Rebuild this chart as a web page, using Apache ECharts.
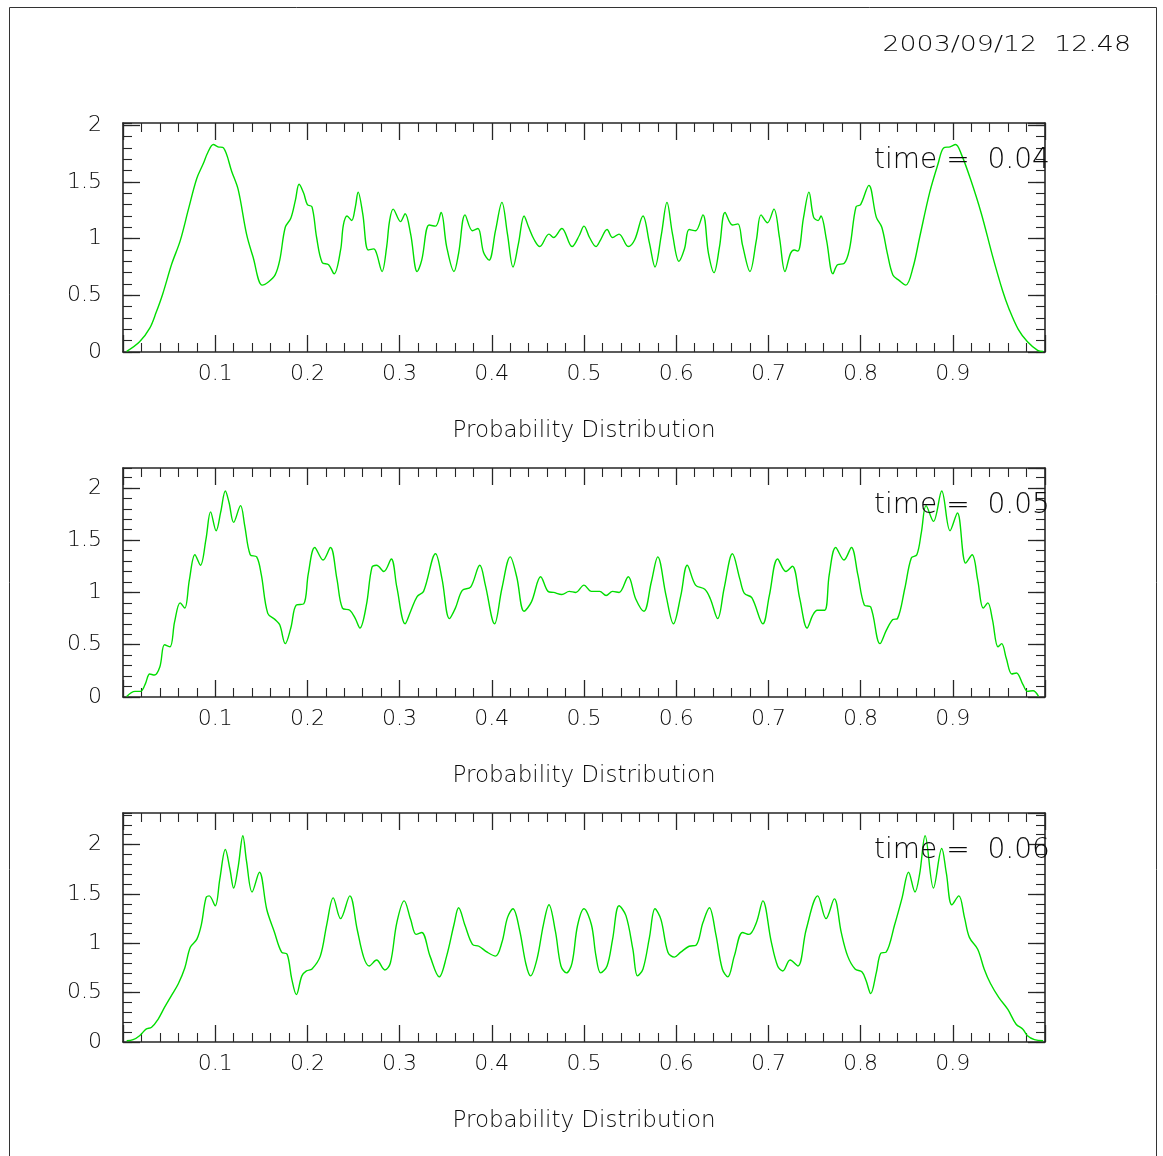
<!DOCTYPE html>
<html>
<head>
<meta charset="utf-8">
<script src="https://cdn.jsdelivr.net/npm/echarts@6/dist/echarts.min.js"></script>
<style>
  html, body { margin: 0; padding: 0; background: #fff; }
  #chart { width: 1163px; height: 1156px; }
</style>
</head>
<body>
<div id="chart"></div>
<script>
// Snapshot labels
const times = ['0.04', '0.05', '0.06'];
const stamp = '2003/09/12  12.48';
const axisTitle = 'Probability Distribution';
// Upper end of each panel's probability axis
const yTop = [2.02, 2.19, 2.32];

// time = 0.04
const x04 = [0.004, 0.018, 0.029, 0.036, 0.043, 0.053, 0.062, 0.071, 0.080, 0.087, 0.092, 0.098, 0.103, 0.109, 0.118, 0.125, 0.134, 0.141, 0.151, 0.158,
  0.165, 0.170, 0.176, 0.182, 0.187, 0.191, 0.196, 0.200, 0.205, 0.210, 0.216, 0.223, 0.229, 0.236, 0.239, 0.243, 0.248, 0.252, 0.255, 0.260,
  0.266, 0.272, 0.275, 0.281, 0.286, 0.289, 0.293, 0.301, 0.306, 0.312, 0.319, 0.324, 0.332, 0.339, 0.345, 0.351, 0.359, 0.364, 0.371, 0.379,
  0.385, 0.391, 0.397, 0.404, 0.411, 0.417, 0.423, 0.429, 0.435, 0.440, 0.446, 0.452, 0.462, 0.467, 0.476, 0.487, 0.495, 0.500, 0.506, 0.513,
  0.518, 0.525, 0.531, 0.538, 0.548, 0.555, 0.564, 0.571, 0.577, 0.584, 0.590, 0.596, 0.603, 0.609, 0.614, 0.621, 0.629, 0.635, 0.641, 0.647,
  0.653, 0.661, 0.667, 0.672, 0.680, 0.687, 0.692, 0.699, 0.706, 0.712, 0.718, 0.724, 0.728, 0.732, 0.738, 0.744, 0.749, 0.754, 0.757, 0.763,
  0.770, 0.775, 0.782, 0.788, 0.795, 0.800, 0.809, 0.817, 0.823, 0.829, 0.835, 0.842, 0.849, 0.857, 0.864, 0.875, 0.884, 0.890, 0.897, 0.903,
  0.909, 0.919, 0.931, 0.943, 0.954, 0.961, 0.971, 0.981, 0.992, 0.998];
const p04 = [0.005, 0.09, 0.21, 0.35, 0.51, 0.78, 0.98, 1.26, 1.53, 1.66, 1.76, 1.83, 1.81, 1.80, 1.59, 1.43, 1.04, 0.84, 0.59, 0.62,
  0.68, 0.81, 1.10, 1.18, 1.34, 1.48, 1.40, 1.30, 1.28, 1.01, 0.79, 0.77, 0.69, 0.90, 1.12, 1.20, 1.16, 1.28, 1.41, 1.22,
  0.90, 0.91, 0.87, 0.71, 0.93, 1.15, 1.26, 1.15, 1.22, 1.04, 0.71, 0.81, 1.12, 1.11, 1.23, 0.93, 0.71, 0.87, 1.21, 1.07,
  1.09, 0.88, 0.81, 1.07, 1.32, 1.04, 0.75, 0.96, 1.20, 1.10, 0.99, 0.93, 1.04, 1.01, 1.09, 0.93, 1.03, 1.11, 1.01, 0.93,
  0.99, 1.08, 1.01, 1.04, 0.93, 0.99, 1.20, 0.96, 0.75, 1.04, 1.32, 1.04, 0.80, 0.91, 1.08, 1.07, 1.21, 0.87, 0.70, 0.93,
  1.23, 1.12, 1.13, 0.94, 0.71, 0.99, 1.21, 1.14, 1.26, 1.01, 0.71, 0.87, 0.90, 0.89, 1.18, 1.41, 1.19, 1.16, 1.20, 0.99,
  0.69, 0.77, 0.78, 0.91, 1.28, 1.30, 1.47, 1.19, 1.10, 0.87, 0.68, 0.63, 0.59, 0.75, 1.01, 1.41, 1.66, 1.80, 1.81, 1.83,
  1.75, 1.53, 1.22, 0.85, 0.54, 0.38, 0.20, 0.09, 0.015, 0.005];

// time = 0.05
const x05 = [0.004, 0.013, 0.019, 0.024, 0.029, 0.034, 0.040, 0.045, 0.051, 0.056, 0.062, 0.067, 0.072, 0.078, 0.084, 0.090, 0.095, 0.101, 0.106, 0.111,
  0.115, 0.120, 0.1275, 0.132, 0.138, 0.145, 0.150, 0.157, 0.165, 0.170, 0.176, 0.182, 0.188, 0.196, 0.201, 0.208, 0.217, 0.225, 0.232, 0.238,
  0.246, 0.252, 0.257, 0.264, 0.270, 0.275, 0.283, 0.291, 0.297, 0.306, 0.312, 0.319, 0.326, 0.339, 0.346, 0.354, 0.3605, 0.368, 0.377, 0.387,
  0.393, 0.403, 0.411, 0.420, 0.427, 0.435, 0.443, 0.453, 0.461, 0.467, 0.476, 0.484, 0.491, 0.500, 0.508, 0.517, 0.524, 0.531, 0.538, 0.548,
  0.556, 0.565, 0.573, 0.580, 0.589, 0.597, 0.605, 0.612, 0.621, 0.631, 0.637, 0.645, 0.652, 0.661, 0.669, 0.674, 0.682, 0.694, 0.701, 0.710,
  0.719, 0.726, 0.734, 0.742, 0.748, 0.753, 0.761, 0.766, 0.773, 0.782, 0.790, 0.797, 0.804, 0.811, 0.821, 0.828, 0.835, 0.840, 0.848, 0.855,
  0.861, 0.866, 0.871, 0.879, 0.888, 0.897, 0.905, 0.914, 0.921, 0.927, 0.933, 0.938, 0.943, 0.949, 0.953, 0.958, 0.964, 0.969, 0.976, 0.981,
  0.987, 0.993];
const p05 = [0.005, 0.054, 0.054, 0.12, 0.22, 0.21, 0.29, 0.50, 0.48, 0.72, 0.90, 0.85, 1.12, 1.36, 1.26, 1.51, 1.77, 1.59, 1.77, 1.97,
  1.86, 1.67, 1.83, 1.64, 1.36, 1.34, 1.17, 0.80, 0.74, 0.69, 0.51, 0.66, 0.88, 0.89, 1.18, 1.43, 1.31, 1.43, 1.13, 0.85,
  0.83, 0.75, 0.66, 0.88, 1.24, 1.26, 1.20, 1.32, 1.05, 0.70, 0.82, 0.96, 1.01, 1.37, 1.13, 0.75, 0.85, 1.02, 1.05, 1.26,
  1.07, 0.70, 1.04, 1.34, 1.15, 0.82, 0.91, 1.15, 1.01, 1.00, 0.98, 1.01, 1.00, 1.07, 1.01, 1.01, 0.97, 1.01, 1.00, 1.15,
  0.94, 0.82, 1.10, 1.34, 0.97, 0.70, 0.97, 1.26, 1.07, 1.03, 0.94, 0.75, 1.04, 1.37, 1.13, 0.99, 0.95, 0.70, 0.97, 1.32,
  1.20, 1.25, 0.94, 0.66, 0.78, 0.83, 0.83, 1.17, 1.43, 1.31, 1.43, 1.17, 0.88, 0.86, 0.51, 0.64, 0.74, 0.75, 1.04, 1.33,
  1.36, 1.58, 1.83, 1.68, 1.97, 1.59, 1.76, 1.28, 1.36, 1.12, 0.85, 0.90, 0.74, 0.48, 0.51, 0.37, 0.22, 0.23, 0.12, 0.054,
  0.06, 0.006];

// time = 0.06
const x06 = [0.004, 0.011, 0.018, 0.025, 0.031, 0.038, 0.045, 0.0525, 0.060, 0.067, 0.073, 0.080, 0.085, 0.090, 0.0935, 0.100, 0.105, 0.111, 0.116, 0.120,
  0.125, 0.130, 0.134, 0.140, 0.148, 0.156, 0.164, 0.172, 0.178, 0.183, 0.188, 0.194, 0.199, 0.205, 0.214, 0.221, 0.228, 0.236, 0.246, 0.254,
  0.261, 0.267, 0.275, 0.284, 0.290, 0.297, 0.305, 0.312, 0.318, 0.324, 0.333, 0.343, 0.351, 0.359, 0.364, 0.371, 0.379, 0.386, 0.395, 0.404,
  0.411, 0.417, 0.423, 0.430, 0.437, 0.442, 0.449, 0.456, 0.462, 0.469, 0.475, 0.481, 0.487, 0.493, 0.500, 0.508, 0.513, 0.518, 0.525, 0.531,
  0.538, 0.5455, 0.553, 0.558, 0.564, 0.571, 0.577, 0.5835, 0.591, 0.598, 0.605, 0.614, 0.6215, 0.629, 0.636, 0.643, 0.650, 0.656, 0.663, 0.672,
  0.679, 0.687, 0.694, 0.703, 0.710, 0.7155, 0.7235, 0.732, 0.741, 0.7535, 0.7625, 0.7715, 0.779, 0.786, 0.794, 0.8016, 0.806, 0.811, 0.817, 0.822,
  0.8277, 0.837, 0.845, 0.852, 0.859, 0.864, 0.870, 0.879, 0.888, 0.893, 0.899, 0.9065, 0.9127, 0.918, 0.927, 0.934, 0.941, 0.950, 0.9597, 0.9687,
  0.976, 0.981, 0.9886, 0.998];
const p06 = [0.013, 0.024, 0.064, 0.13, 0.15, 0.23, 0.35, 0.47, 0.59, 0.75, 0.96, 1.04, 1.19, 1.46, 1.48, 1.38, 1.65, 1.95, 1.75, 1.56,
  1.78, 2.09, 1.83, 1.52, 1.72, 1.34, 1.12, 0.91, 0.89, 0.64, 0.48, 0.67, 0.72, 0.74, 0.87, 1.19, 1.46, 1.25, 1.48, 1.14,
  0.86, 0.77, 0.83, 0.73, 0.80, 1.21, 1.43, 1.24, 1.09, 1.11, 0.87, 0.66, 0.87, 1.19, 1.36, 1.18, 0.99, 0.97, 0.91, 0.87,
  1.01, 1.26, 1.35, 1.14, 0.79, 0.67, 0.84, 1.19, 1.39, 1.12, 0.77, 0.70, 0.80, 1.18, 1.35, 1.19, 0.87, 0.70, 0.77, 1.04,
  1.38, 1.28, 0.94, 0.67, 0.74, 1.06, 1.35, 1.24, 0.91, 0.86, 0.91, 0.97, 0.98, 1.21, 1.36, 1.09, 0.74, 0.66, 0.87, 1.11,
  1.09, 1.21, 1.43, 1.02, 0.77, 0.72, 0.83, 0.77, 1.14, 1.48, 1.25, 1.45, 1.11, 0.87, 0.74, 0.71, 0.62, 0.49, 0.70, 0.90,
  0.91, 1.19, 1.46, 1.72, 1.52, 1.70, 2.09, 1.56, 1.96, 1.71, 1.39, 1.48, 1.26, 1.06, 0.94, 0.74, 0.59, 0.45, 0.33, 0.18,
  0.13, 0.064, 0.024, 0.013];

const panels = [
  { x: x04, p: p04 },
  { x: x05, p: p05 },
  { x: x06, p: p06 }
];

const INK = '#262626';
const TEXT = '#0a0a0a';
const CURVE = '#00dd00';
const FONT = "'DejaVu Sans', sans-serif";
const WEIGHT = 200;
const panelTops = [123, 468, 813];
const BOX = { left: 123, width: 922, height: 229 };

const grids = [], xAxes = [], yAxes = [], series = [], graphics = [];

const majorTick = { show: true, inside: true, length: 17, lineStyle: { color: INK, width: 1.3 } };
const minorTickX = { show: true, splitNumber: 5, length: 9, lineStyle: { color: INK, width: 1.1 } };
const frameLine = { show: true, onZero: false, lineStyle: { color: INK, width: 1.6 } };

panelTops.forEach((top, i) => {
  const gMain = grids.length;
  grids.push({ left: BOX.left, width: BOX.width, top: top, height: BOX.height, outerBoundsMode: 'none' });
  const gFine = grids.length;
  grids.push({ left: BOX.left, width: BOX.width, top: top, height: BOX.height, outerBoundsMode: 'none' });

  const xBase = {
    type: 'value', min: 0, max: 1, interval: 0.1,
    axisLine: frameLine, axisTick: majorTick, minorTick: minorTickX,
    splitLine: { show: false }, minorSplitLine: { show: false }
  };
  const xBottom = xAxes.length;
  xAxes.push(Object.assign({}, xBase, {
    gridIndex: gMain, position: 'bottom',
    axisLabel: { show: true, margin: 11, showMinLabel: false, showMaxLabel: false, fontSize: 22, fontWeight: WEIGHT, color: TEXT, fontFamily: FONT },
    name: axisTitle, nameLocation: 'middle', nameGap: 68,
    nameTextStyle: { fontSize: 23, fontWeight: WEIGHT, color: TEXT, fontFamily: FONT }
  }));
  xAxes.push(Object.assign({}, xBase, { gridIndex: gMain, position: 'top', axisLabel: { show: false } }));
  xAxes.push({ type: 'value', gridIndex: gFine, min: 0, max: 1, show: false });

  const yBase = {
    type: 'value', min: 0, max: yTop[i], interval: 0.5,
    axisLine: frameLine, axisTick: majorTick, splitLine: { show: false }
  };
  const yLeft = yAxes.length;
  yAxes.push(Object.assign({}, yBase, {
    gridIndex: gMain, position: 'left',
    axisLabel: { show: true, margin: 21, showMaxLabel: false, fontSize: 22, fontWeight: WEIGHT, color: TEXT, fontFamily: FONT }
  }));
  yAxes.push(Object.assign({}, yBase, { gridIndex: gMain, position: 'right', axisLabel: { show: false } }));

  // fine 0.1 ticks on both vertical edges
  const yFine = {
    type: 'value', gridIndex: gFine, min: 0, max: yTop[i], interval: 0.1,
    axisLine: { show: false },
    axisTick: { show: true, inside: true, length: 9, lineStyle: { color: INK, width: 1.1 } },
    axisLabel: { show: false }, splitLine: { show: false }
  };
  yAxes.push(Object.assign({}, yFine, { position: 'left' }));
  yAxes.push(Object.assign({}, yFine, { position: 'right' }));

  const pts = panels[i].x.map((v, k) => [v, panels[i].p[k]]);
  series.push({
    type: 'line', xAxisIndex: xBottom, yAxisIndex: yLeft, data: pts,
    showSymbol: false, symbol: 'none', smooth: 0.35, silent: true,
    lineStyle: { color: CURVE, width: 1.4 }, z: 3
  });

  graphics.push({
    type: 'text', x: 874, y: top + 37.5, z: 10, silent: true,
    style: {
      text: 'time =  ' + times[i], font: WEIGHT + ' 28px ' + FONT, fill: TEXT,
      verticalAlign: 'middle', textVerticalAlign: 'middle'
    }
  });
});

// outer page frame and date stamp
graphics.push({
  type: 'rect', silent: true, z: 0,
  shape: { x: 9.5, y: 7.5, width: 1147, height: 1170 },
  style: { fill: 'none', stroke: '#333', lineWidth: 1 }
});
graphics.push({
  type: 'text', x: 1131, y: 45, scaleX: 1.22, silent: true,
  style: {
    text: stamp, font: WEIGHT + ' 22px ' + FONT, fill: TEXT,
    align: 'right', textAlign: 'right', verticalAlign: 'middle', textVerticalAlign: 'middle'
  }
});

const chart = echarts.init(document.getElementById('chart'), null, { renderer: 'canvas' });
chart.setOption({
  animation: false,
  backgroundColor: '#fff',
  grid: grids,
  xAxis: xAxes,
  yAxis: yAxes,
  series: series,
  graphic: graphics
});
</script>
</body>
</html>
